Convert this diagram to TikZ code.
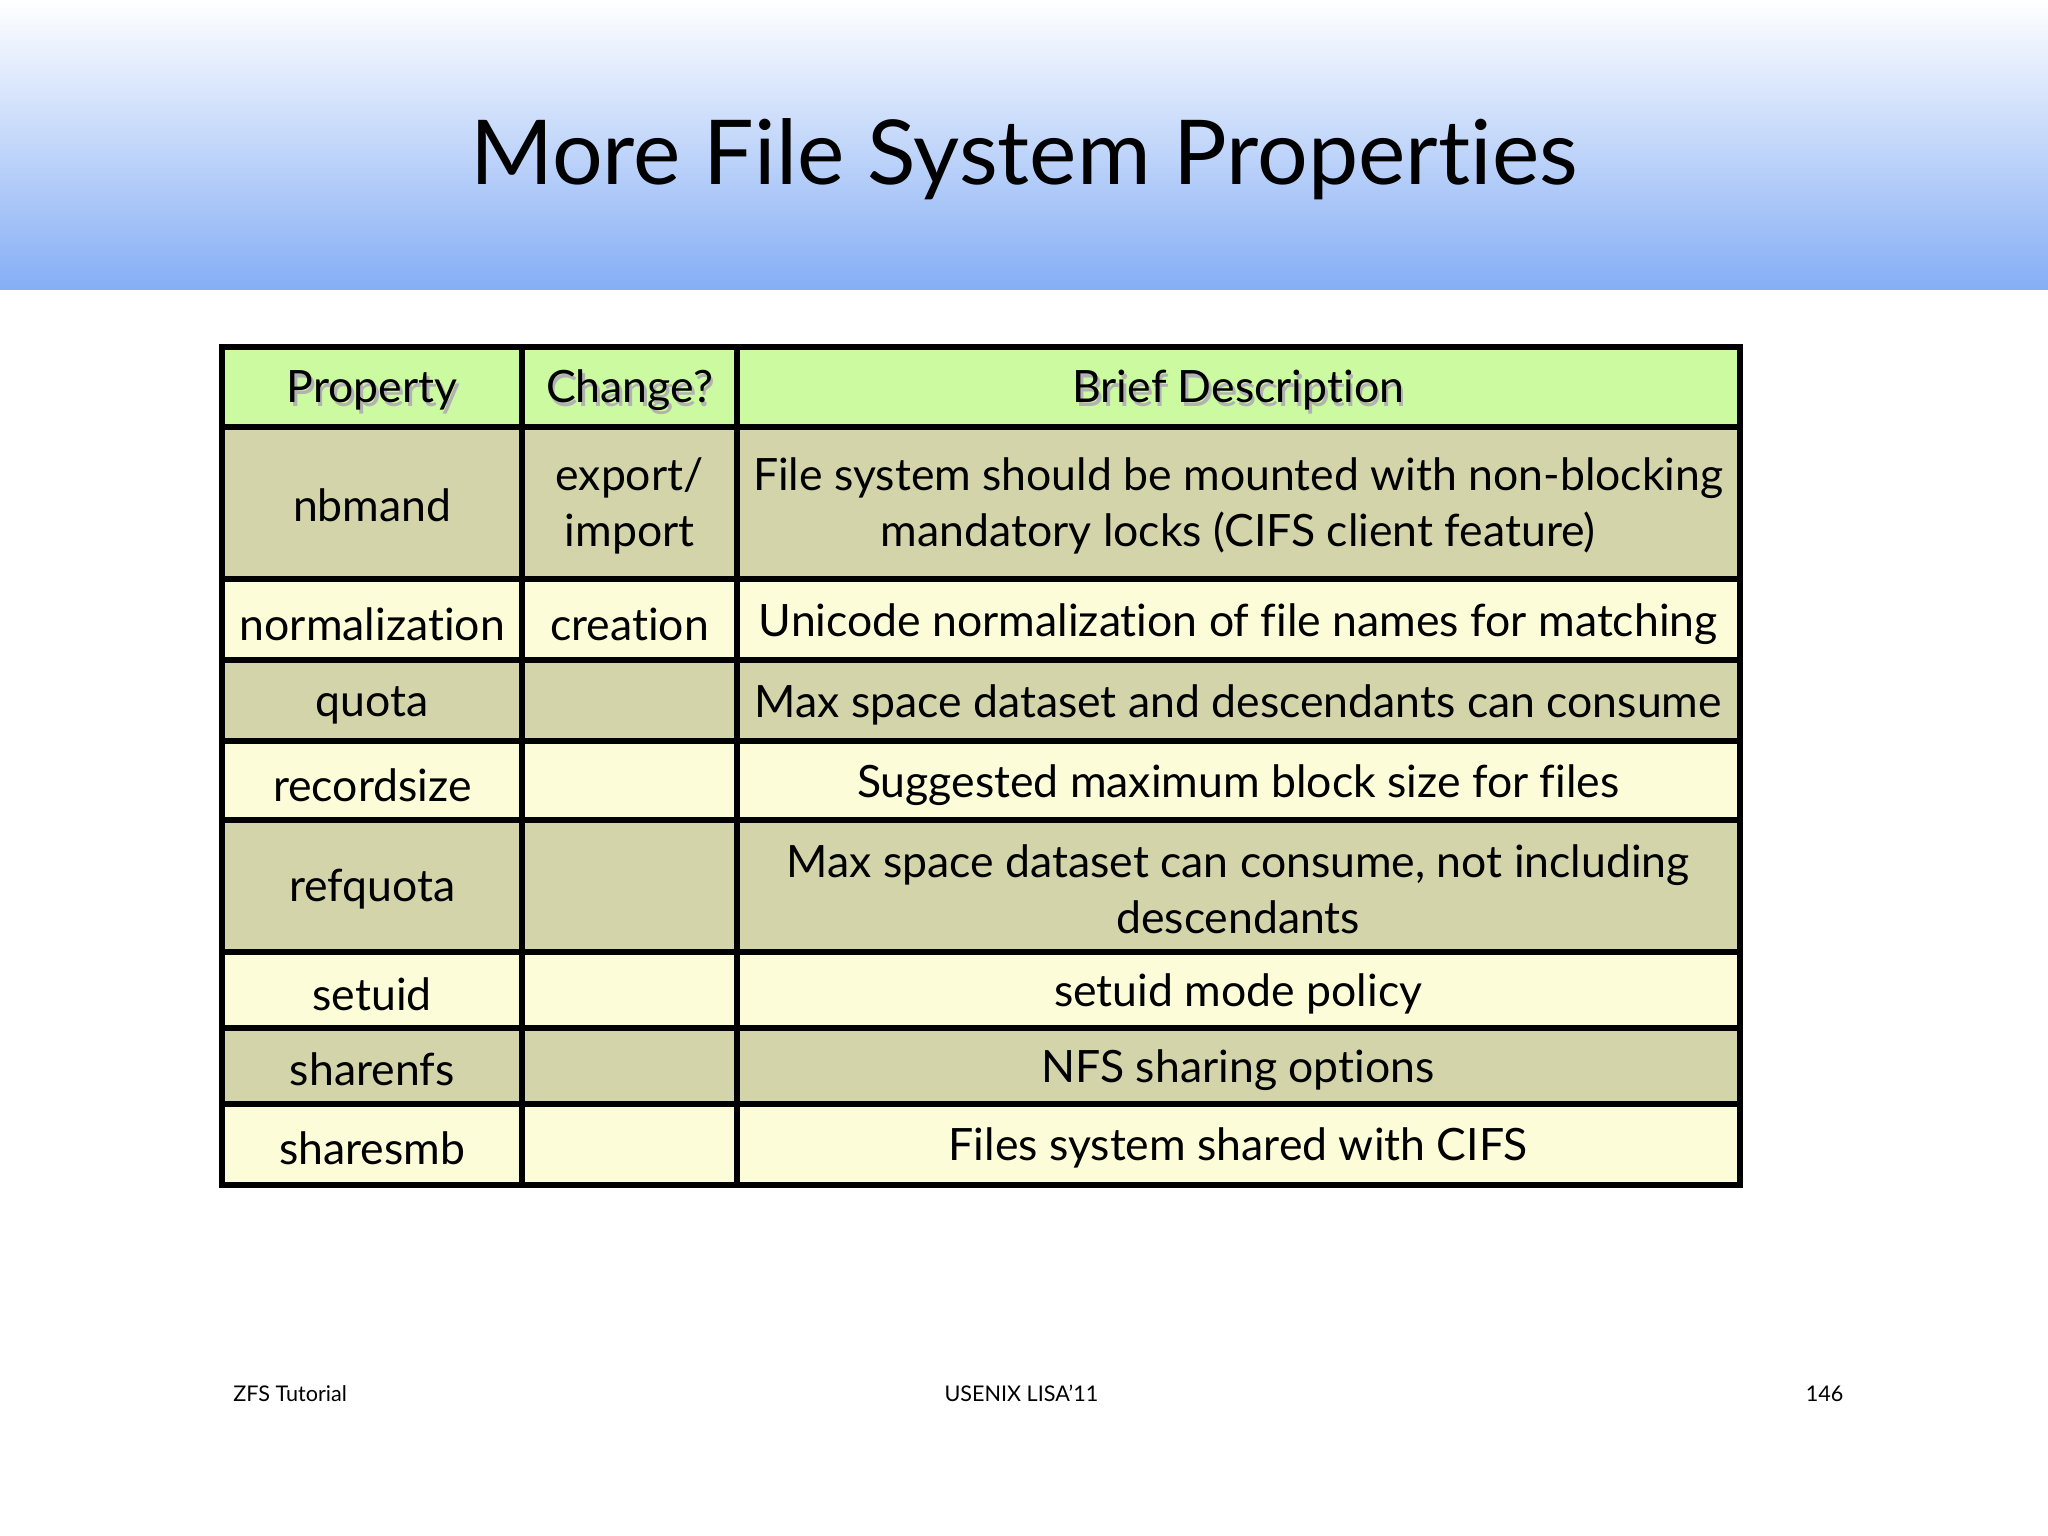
\documentclass[tikz,border=0pt]{standalone}
\usepackage{fontspec}
\setmainfont[Ligatures=NoCommon]{Lato}
\definecolor{hdr}{HTML}{CCFAA0}
\definecolor{drk}{HTML}{D4D4AA}
\definecolor{lgt}{HTML}{FCFCD9}
\definecolor{blu}{HTML}{85AEF5}
\tikzset{cell/.style={draw=black,line width=1.3pt},
 txt/.style={align=center,font=\fontsize{9.7}{12.2}\selectfont},
 hd/.style={align=center,font=\fontsize{9.7}{12.2}\selectfont}}
\begin{document}
\begin{tikzpicture}[x=0.01cm,y=-0.01cm]
\useasboundingbox (0,0) rectangle (1568,1176);
\shade[top color=white,bottom color=blu] (0,0) rectangle (1568,222);
\node[font=\fontsize{19.5}{23}\selectfont] (title) at (784,122) {More File System Properties};
\newcommand\rowc[3]{\fill[#3] (170,#1) rectangle (1332,#2);}
\rowc{266}{327}{hdr}
\rowc{327}{443}{drk}
\rowc{443}{505}{lgt}
\rowc{505}{567}{drk}
\rowc{567}{628}{lgt}
\rowc{628}{729}{drk}
\rowc{729}{787}{lgt}
\rowc{787}{845}{drk}
\rowc{845}{907}{lgt}
\foreach \y in {327,443,505,567,628,729,787,845} \draw[line width=1.3pt] (170,\y) -- (1332,\y);
\foreach \x in {400,564} \draw[line width=1.3pt] (\x,266) -- (\x,907);
\draw[cell] (170,266) rectangle (1332,907);
\foreach \c/\r/\t [count=\i] in {285/299/Property,482/299/Change?,948/299/Brief Description}
 {\node[hd,text=black!30] at (\c+2,\r+3) {\t}; \node[hd] (h\i) at (\c,\r) {\t};}
\node[txt] (p1) at (285,387) {nbmand};
\node[txt] (c1) at (482,387) {export/\\import};
\node[txt] (d1) at (948,387) {File system should be mounted with non-blocking\\mandatory locks (CIFS client feature)};
\node[txt] (p2) at (285,478) {normalization};
\node[txt] (c2) at (482,478) {creation};
\node[txt] (d2) at (948,478) {Unicode normalization of file names for matching};
\node[txt] (p3) at (285,540) {quota};
\node[txt] (d3) at (948,540) {Max space dataset and descendants can consume};
\node[txt] (p4) at (285,601) {recordsize};
\node[txt] (d4) at (948,601) {Suggested maximum block size for files};
\node[txt] (p5) at (285,681) {refquota};
\node[txt] (d5) at (948,681) {Max space dataset can consume, not including\\descendants};
\node[txt] (p6) at (285,761) {setuid};
\node[txt] (d6) at (948,761) {setuid mode policy};
\node[txt] (p7) at (285,819) {sharenfs};
\node[txt] (d7) at (948,819) {NFS sharing options};
\node[txt] (p8) at (285,879) {sharesmb};
\node[txt] (d8) at (948,879) {Files system shared with CIFS};
\node[anchor=west,font=\fontsize{4.7}{6}\selectfont,inner sep=0] (f1) at (178,1067) {ZFS Tutorial};
\node[font=\fontsize{4.7}{6}\selectfont,inner sep=0] (f2) at (782,1067) {USENIX LISA'11};
\node[anchor=east,font=\fontsize{4.7}{6}\selectfont,inner sep=0] (f3) at (1412,1067) {146};
\end{tikzpicture}
\end{document}
